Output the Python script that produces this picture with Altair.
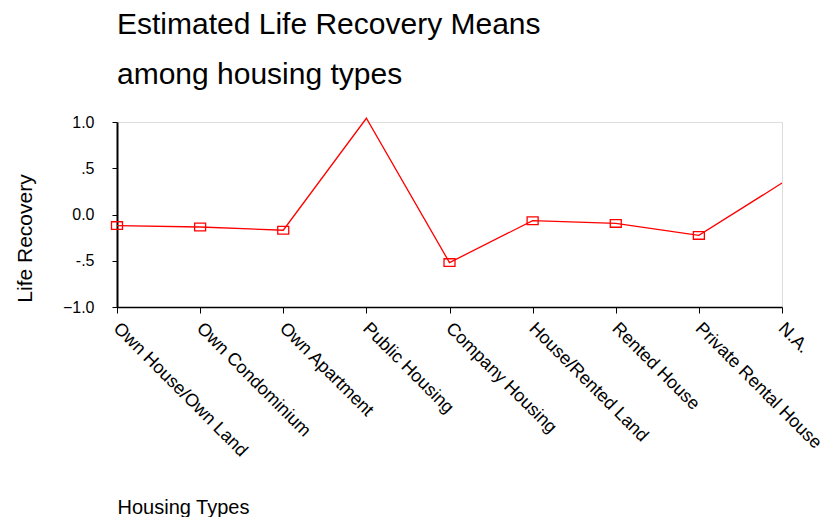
import altair as alt
import pandas as pd

types = ["Own House/Own Land", "Own Condominium", "Own Apartment", "Public Housing",
         "Company Housing", "House/Rented Land", "Rented House", "Private Rental House", "N.A."]
means = [-0.12, -0.135, -0.17, 1.04, -0.52, -0.067, -0.096, -0.226, 0.34]
no_marker = ["Public Housing", "N.A."]

df = pd.DataFrame({"type": types, "mean": means})

FONT = "Liberation Sans"

x = alt.X("type:N", sort=types, scale=alt.Scale(padding=0),
          axis=alt.Axis(title="Housing Types", labelAngle=45, labelAlign="left",
                        labelBaseline="top", labelFontSize=18, labelPadding=6,
                        labelOffset=5,
                        labelColor="black", tickColor="black", tickSize=6,
                        domainColor="black", domainWidth=1.5,
                        titleFontSize=20, titleFontWeight="normal", titleColor="black",
                        titleAnchor="start", titleAlign="left", titleBaseline="middle",
                        titleX=0, titleY=200, labelFont=FONT, titleFont=FONT,
                        labelOverlap=False, labelLimit=400))
y = alt.Y("mean:Q", scale=alt.Scale(domain=[-1, 1], nice=False, zero=False),
          axis=alt.Axis(title="Life Recovery", values=[-1, -0.5, 0, 0.5, 1],
                        labelExpr="datum.value == 0.5 ? '.5' : datum.value == -0.5 ? '-.5' : format(datum.value, '.1f')",
                        labelFontSize=16, labelPadding=18, labelColor="black",
                        tickColor="black", tickSize=5, domainColor="black", domainWidth=2,
                        grid=False, titleFontSize=21, titleFontWeight="normal",
                        titleColor="black", titleAngle=-90, titleAlign="center",
                        titleBaseline="middle", titleX=-92, titleY=116,
                        labelFont=FONT, titleFont=FONT))

line = alt.Chart(df).mark_line(color="red", strokeWidth=1.3, clip=False).encode(x=x, y=y)
pts = alt.Chart(df).transform_filter(
    "datum.type != 'Public Housing' && datum.type != 'N.A.'"
).mark_point(shape="M-1,-0.7L1,-0.7L1,0.7L-1,0.7Z", size=121, filled=False,
             color="red", strokeWidth=1.3, opacity=1).encode(x=x, y=y)

chart = (line + pts).properties(
    width=665, height=185,
    autosize=alt.AutoSizeParams(type="none"),
    padding={"left": 109, "top": 114, "right": 45, "bottom": 210},
    title=alt.TitleParams(text=["Estimated Life Recovery Means", "among housing types"],
                          anchor="start", frame="group", fontSize=30, lineHeight=50,
                          fontWeight="normal", font=FONT, color="black", offset=24),
).configure_view(stroke="#222222", strokeWidth=2).configure(background="white")

chart.save("out.html", embed_options={"renderer": "svg", "actions": False})
